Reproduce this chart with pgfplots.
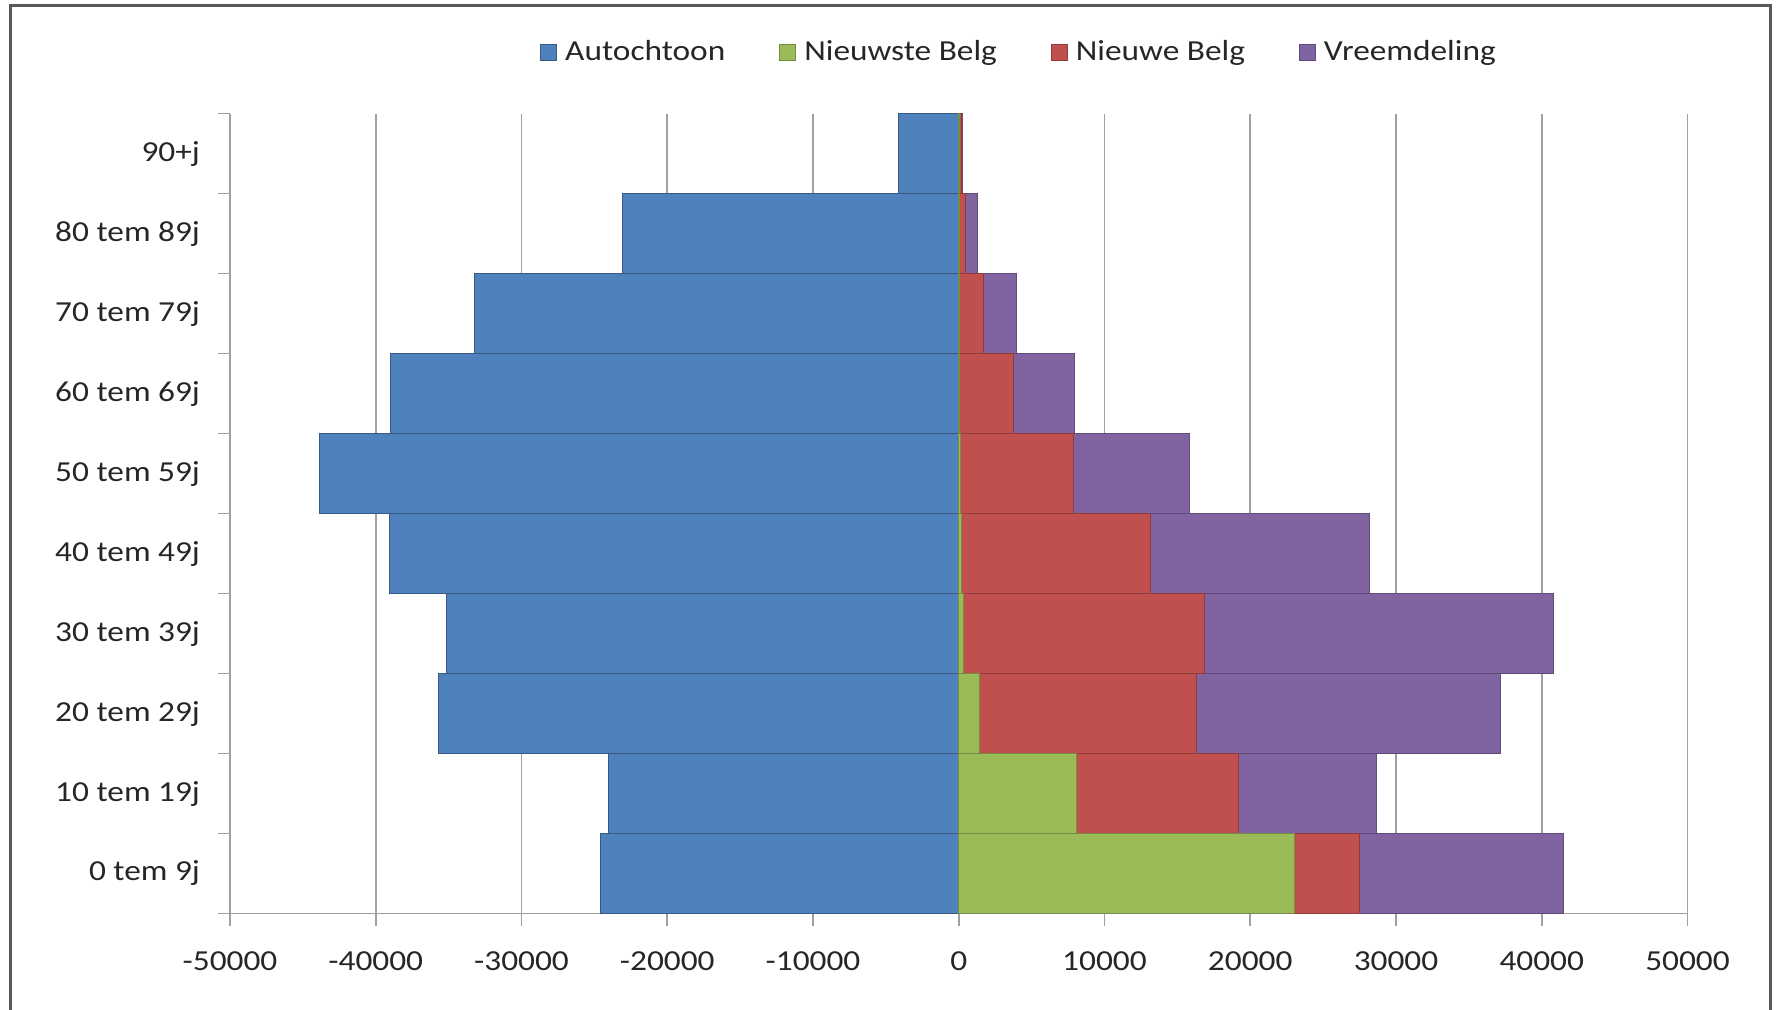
\documentclass[border=0pt]{standalone}
\usepackage{fontspec}
\setmainfont{Carlito}[FakeStretch=1.15]
\usepackage{pgfplots}
\pgfplotsset{compat=1.18}
\definecolor{cA}{HTML}{4F81BD}
\definecolor{cB}{HTML}{9BBB59}
\definecolor{cC}{HTML}{C0504D}
\definecolor{cD}{HTML}{8064A2}
\definecolor{axgray}{HTML}{A0A0A0}
\begin{document}
\begin{tikzpicture}[font=\fontsize{14.5}{17}\selectfont]
\useasboundingbox (0,0) rectangle (888.5pt,504.5pt);
\pgfplotsset{
  base/.style={scale only axis, width=728.75pt, height=400pt,
    at={(115pt,47.75pt)}, anchor=south west,
    xmin=-50000, xmax=50000, ymin=-0.5, ymax=9.5, bar width=1},
  mylegend/.style={legend image code/.code={\draw[##1] (0pt,-4pt) rectangle (8pt,4pt); \path (10pt,0pt);}},
}
\begin{axis}[base, xbar,
  xtick={-50000,-40000,...,50000},
  xmajorgrids, grid style={axgray, line width=0.8pt},
  ytick={-0.5,0.5,...,9.5}, yticklabels={},
  extra y ticks={0,...,9},
  extra y tick labels={0 tem 9j,10 tem 19j,20 tem 29j,30 tem 39j,40 tem 49j,50 tem 59j,60 tem 69j,70 tem 79j,80 tem 89j,90+j},
  extra y tick style={major tick length=0pt, yticklabel style={xshift=-11.5pt}},
  tick align=outside, major tick length=6pt,
  tick style={axgray, line width=0.8pt},
  axis lines*=left, axis line style={axgray, line width=0.8pt},
  /pgf/number format/assume math mode=true, /pgf/number format/1000 sep={},
  scaled x ticks=false,
  xticklabel style={yshift=-9.7pt},
  tick label style={black!85},
]
\addplot[fill=cA, draw=cA!70!black, line width=0.5pt] coordinates {
(-24600,0) (-24050,1) (-35700,2) (-35150,3) (-39050,4) (-43850,5) (-39000,6) (-33200,7) (-23100,8) (-4100,9)};
\end{axis}
\begin{axis}[base, hide axis, xbar stacked,
  legend style={at={(0.542,1.0766)}, anchor=center, draw=none, fill=none,
    legend columns=4, /tikz/every even column/.append style={column sep=25pt},
    font=\fontsize{14.5}{17}\selectfont, text=black!85},
]
\addlegendimage{fill=cA, draw=cA!70!black, line width=0.5pt, mylegend}
\addlegendentry{Autochtoon}
\addplot[fill=cB, draw=cB!75!black, line width=0.5pt, mylegend] coordinates {
(23050,0) (8080,1) (1440,2) (300,3) (200,4) (100,5) (50,6) (40,7) (30,8) (20,9)};
\addlegendentry{Nieuwste Belg}
\addplot[fill=cC, draw=cC!75!black, line width=0.5pt, mylegend] coordinates {
(4420,0) (11140,1) (14870,2) (16560,3) (12950,4) (7750,5) (3690,6) (1660,7) (420,8) (150,9)};
\addlegendentry{Nieuwe Belg}
\addplot[fill=cD, draw=cD!75!black, line width=0.5pt, mylegend] coordinates {
(14020,0) (9420,1) (20890,2) (23960,3) (15030,4) (8010,5) (4200,6) (2280,7) (850,8) (100,9)};
\addlegendentry{Vreemdeling}
\end{axis}
\draw[line width=1.5pt, black!65] (5pt,-2pt) -- (5pt,501.5pt) -- (885pt,501.5pt) -- (885pt,-2pt);
\end{tikzpicture}
\end{document}
